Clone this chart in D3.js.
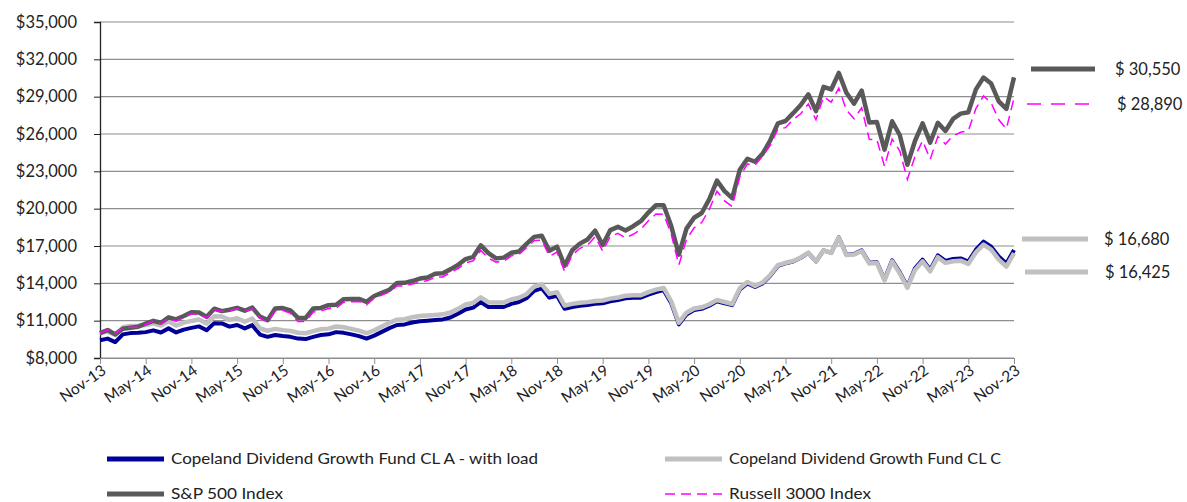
<!DOCTYPE html>
<html>
<head>
<meta charset="utf-8">
<script src="https://cdn.jsdelivr.net/npm/d3@7"></script>
<style>
  body { margin: 0; background: #fff; }
  svg { display: block; font-family: "Lato", "Liberation Sans", sans-serif; }
</style>
</head>
<body>
<svg id="chart" width="1187" height="502"></svg>
<script>
// month categories, Nov-13 .. Nov-23
var months = d3.timeMonth.range(new Date(2013, 10, 1), new Date(2023, 11, 1));

var yTicks = [8000, 11000, 14000, 17000, 20000, 23000, 26000, 29000, 32000, 35000];

// growth of $10,000
var sp500 = [10000, 10253, 9898, 10350, 10437, 10514, 10761, 10984, 10832, 11266, 11108, 11379,
  11685, 11656, 11306, 11956, 11767, 11880, 12033, 11800, 12048, 11321, 11042, 11974,
  12010, 11820, 11234, 11219, 11980, 12027, 12243, 12275, 12728, 12746, 12748, 12516,
  12979, 13236, 13487, 14023, 14040, 14184, 14384, 14473, 14772, 14817, 15122, 15475,
  15950, 16127, 17051, 16422, 16005, 16066, 16453, 16555, 17171, 17731, 17832, 16612,
  16951, 15420, 16655, 17190, 17523, 18233, 17075, 18279, 18542, 18249, 18590, 18993,
  19683, 20278, 20270, 18602, 16305, 18395, 19271, 19654, 20763, 22256, 21410, 20841,
  23123, 24011, 23768, 24424, 25494, 26855, 27043, 27673, 28332, 29193, 27836, 29787,
  29581, 30906, 29308, 28432, 29487, 26916, 26964, 24740, 27021, 25919, 23532, 25438,
  26860, 25313, 26903, 26247, 27210, 27635, 27754, 29588, 30538, 30052, 28619, 28018,
  30550];

var russell3000 = [10000, 10264, 9939, 10411, 10465, 10477, 10694, 10962, 10746, 11197, 10964, 11266,
  11539, 11539, 11218, 11868, 11747, 11800, 11956, 11756, 11952, 11230, 10903, 11764,
  11829, 11583, 10930, 10927, 11696, 11769, 11980, 12006, 12484, 12516, 12536, 12265,
  12805, 13055, 13300, 13788, 13798, 13943, 14092, 14219, 14485, 14512, 14866, 15190,
  15650, 15808, 16641, 16027, 15705, 15765, 16209, 16315, 16855, 17436, 17466, 16180,
  16504, 14967, 16251, 16815, 17066, 17740, 16592, 17757, 18021, 17654, 17940, 18328,
  19026, 19568, 19546, 17945, 15478, 17527, 18465, 18888, 19957, 21402, 20629, 20181,
  22581, 23593, 23494, 24222, 25092, 26386, 26510, 27165, 27624, 28420, 27144, 28995,
  28554, 29679, 27922, 27218, 28100, 25571, 25540, 23403, 25598, 24643, 22359, 24192,
  25460, 23968, 25796, 25187, 25860, 26134, 26257, 28050, 29054, 28493, 27137, 26418,
  28890];

var fundA = [9425, 9560, 9280, 9900, 10000, 10020, 10080, 10220, 10050, 10380, 10050, 10280,
  10420, 10540, 10230, 10800, 10780, 10520, 10650, 10380, 10640, 9880, 9700, 9850,
  9760, 9700, 9560, 9520, 9700, 9850, 9900, 10080, 10020, 9900, 9760, 9560,
  9800, 10100, 10400, 10650, 10700, 10850, 10950, 11000, 11050, 11100, 11250, 11550,
  11900, 12050, 12500, 12100, 12100, 12100, 12350, 12500, 12800, 13400, 13600, 12850,
  13000, 11950, 12100, 12200, 12250, 12350, 12400, 12550, 12650, 12800, 12850, 12850,
  13100, 13300, 13450, 12400, 10700, 11500, 11850, 11950, 12200, 12550, 12400, 12250,
  13500, 14000, 13700, 14000, 14600, 15400, 15600, 15750, 16050, 16450, 15750, 16650,
  16450, 17700, 16300, 16350, 16650, 15650, 15700, 14300, 15850, 14900, 13750, 15200,
  15900, 15100, 16250, 15800, 15950, 16000, 15750, 16700, 17350, 16950, 16150, 15600,
  16680];

var fundC = [10000, 10135, 9850, 10470, 10570, 10590, 10650, 10790, 10610, 10950, 10610, 10840,
  10980, 11090, 10770, 11350, 11330, 11060, 11190, 10910, 11170, 10380, 10190, 10340,
  10240, 10180, 10030, 9990, 10160, 10310, 10360, 10530, 10470, 10340, 10200, 9990,
  10230, 10530, 10830, 11080, 11120, 11270, 11370, 11420, 11460, 11510, 11660, 11950,
  12300, 12430, 12880, 12470, 12460, 12450, 12700, 12840, 13130, 13730, 13920, 13150,
  13290, 12210, 12350, 12440, 12490, 12580, 12620, 12770, 12860, 13000, 13050, 13040,
  13290, 13490, 13630, 12560, 10840, 11640, 11980, 12070, 12320, 12660, 12500, 12340,
  13600, 14100, 13790, 14080, 14670, 15460, 15650, 15790, 16080, 16470, 15760, 16650,
  16440, 17680, 16270, 16310, 16600, 15590, 15630, 14230, 15760, 14800, 13650, 15080,
  15770, 14970, 16100, 15640, 15780, 15820, 15560, 16490, 17120, 16710, 15910, 15350,
  16425];

var seriesNames = ["Copeland Dividend Growth Fund CL A - with load", "Copeland Dividend Growth Fund CL C",
  "S&P 500 Index", "Russell 3000 Index"];

var svg = d3.select("#chart");
var plotLeft = 100, plotRight = 1014, plotTop = 22, plotBottom = 358;

var xScale = d3.scaleLinear().domain([0, months.length - 1]).range([plotLeft, plotRight]);
var yScale = d3.scaleLinear().domain([8000, 35000]).range([plotBottom, plotTop]);

// gridlines
svg.append("g")
    .selectAll("line")
    .data(yTicks)
    .enter().append("line")
    .attr("x1", plotLeft).attr("x2", plotRight)
    .attr("y1", function (d) { return yScale(d); })
    .attr("y2", function (d) { return yScale(d); })
    .attr("stroke", "#8e8e8e")
    .attr("stroke-width", 1.2);

// y axis
var yAxis = d3.axisLeft(yScale)
    .tickValues(yTicks)
    .tickSize(6)
    .tickPadding(17)
    .tickFormat(function (d) { return "$" + d3.format(",")(d); });
var yG = svg.append("g")
    .attr("transform", "translate(" + plotLeft + ",0)")
    .call(yAxis);
yG.select(".domain").attr("stroke", "#222").attr("stroke-width", 1.3);
yG.selectAll(".tick line").attr("stroke", "#222");
yG.selectAll("text").attr("font-size", 16.5).attr("fill", "#222")
    .attr("font-family", "Lato, sans-serif");

// x axis
var xTickIdx = d3.range(0, months.length, 6);
var monthFmt = d3.timeFormat("%b-%y");
var xAxis = d3.axisBottom(xScale)
    .tickValues(xTickIdx)
    .tickSize(6)
    .tickSizeOuter(0)
    .tickFormat(function (i) { return monthFmt(months[i]); });
var xG = svg.append("g")
    .attr("transform", "translate(0," + plotBottom + ")")
    .call(xAxis);
xG.select(".domain").attr("stroke", "#8e8e8e").attr("stroke-width", 1.2);
xG.selectAll(".tick line").attr("stroke", "#8e8e8e");
xG.selectAll("text")
    .attr("font-size", 15.5)
    .attr("fill", "#222")
    .attr("font-family", "Lato, sans-serif")
    .style("text-anchor", "end")
    .attr("dx", "-0.2em")
    .attr("dy", "0.45em")
    .attr("transform", "rotate(-35)");

// lines
var line = function (values) {
    return d3.line()
        .x(function (d, i) { return xScale(i); })
        .y(function (d) { return yScale(d); })(values);
};

svg.append("path").attr("d", line(fundA))
    .attr("fill", "none").attr("stroke", "#000099").attr("stroke-width", 4)
    .attr("stroke-linejoin", "round");
svg.append("path").attr("d", line(fundC))
    .attr("fill", "none").attr("stroke", "#c0c0c0").attr("stroke-width", 4.5)
    .attr("stroke-linejoin", "round");
svg.append("path").attr("d", line(sp500))
    .attr("fill", "none").attr("stroke", "#595959").attr("stroke-width", 4.5)
    .attr("stroke-linejoin", "round");
svg.append("path").attr("d", line(russell3000))
    .attr("fill", "none").attr("stroke", "#ff00ff").attr("stroke-width", 1.5)
    .attr("stroke-dasharray", "10,6");

// end labels
var endLabels = [
    { v: sp500[sp500.length - 1], y: 69, x1: 1031, x2: 1095, tx: 1115, color: "#595959", w: 5, dash: null },
    { v: russell3000[russell3000.length - 1], y: 104, x1: 1027, x2: 1090, tx: 1117, color: "#ff00ff", w: 1.5, dash: "14,10" },
    { v: fundA[fundA.length - 1], y: 239, x1: 1022, x2: 1088, tx: 1104, color: "#c0c0c0", w: 5, dash: null },
    { v: fundC[fundC.length - 1], y: 272, x1: 1025, x2: 1088, tx: 1105, color: "#c0c0c0", w: 5, dash: null }
];
var eg = svg.append("g").selectAll("g").data(endLabels).enter().append("g");
eg.append("line")
    .attr("x1", function (d) { return d.x1; }).attr("x2", function (d) { return d.x2; })
    .attr("y1", function (d) { return d.y; }).attr("y2", function (d) { return d.y; })
    .attr("stroke", function (d) { return d.color; })
    .attr("stroke-width", function (d) { return d.w; })
    .attr("stroke-dasharray", function (d) { return d.dash; });
eg.append("text")
    .attr("x", function (d) { return d.tx; })
    .attr("y", function (d) { return d.y; })
    .attr("dy", "0.35em")
    .attr("font-size", 16.5)
    .attr("fill", "#222")
    .text(function (d) { return "$ " + d3.format(",")(d.v); });

// legend
var legend = [
    { name: seriesNames[0], x: 107, y: 459, color: "#000099", w: 5, dash: null, len: 367 },
    { name: seriesNames[1], x: 665, y: 459, color: "#c0c0c0", w: 5, dash: null, len: 272 },
    { name: seriesNames[2], x: 107, y: 494, color: "#595959", w: 5, dash: null, len: 112 },
    { name: seriesNames[3], x: 665, y: 494, color: "#ff00ff", w: 1.5, dash: "10,6", len: 142 }
];
var lg = svg.append("g").selectAll("g").data(legend).enter().append("g");
lg.append("line")
    .attr("x1", function (d) { return d.x; }).attr("x2", function (d) { return d.x + 57; })
    .attr("y1", function (d) { return d.y; }).attr("y2", function (d) { return d.y; })
    .attr("stroke", function (d) { return d.color; })
    .attr("stroke-width", function (d) { return d.w; })
    .attr("stroke-dasharray", function (d) { return d.dash; });
lg.append("text")
    .attr("x", function (d) { return d.x + 64; })
    .attr("y", function (d) { return d.y; })
    .attr("dy", "0.35em")
    .attr("font-size", 15)
    .attr("fill", "#222")
    .attr("textLength", function (d) { return d.len; })
    .attr("lengthAdjust", "spacingAndGlyphs")
    .text(function (d) { return d.name; });
</script>
</body>
</html>
